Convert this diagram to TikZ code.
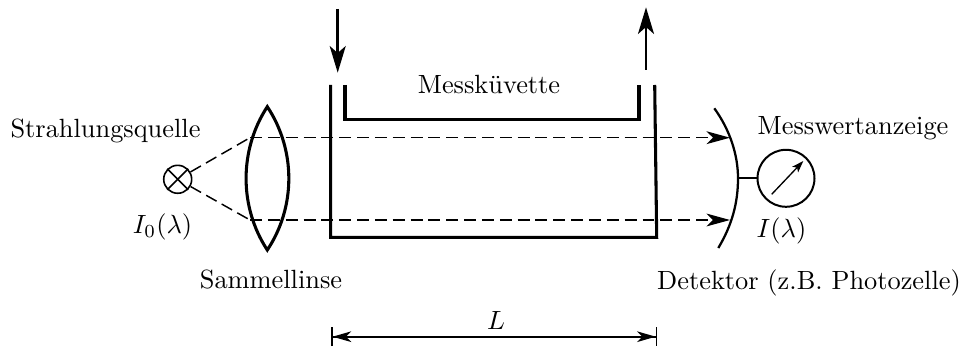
\documentclass[tikz,border=0pt]{standalone}
\usetikzlibrary{arrows.meta}
\begin{document}
\begin{tikzpicture}[x=0.0132cm,y=-0.0132cm]
	\tikzstyle{wall}=[line width=1.15pt]
	\tikzstyle{beam}=[line width=0.55pt,dash pattern=on 4.5pt off 2.2pt]
	\tikzstyle{beamtip}=[-{Stealth[length=8.8pt,width=4.8pt,inset=2.4pt]}]
	\tikzstyle{thinline}=[line width=0.6pt]
	\tikzstyle{flow}=[line width=1pt,-{Stealth[length=10pt,width=6pt,inset=2.6pt]}]
	\tikzstyle{txt}=[inner sep=0pt,anchor=center,scale=0.99]
	\useasboundingbox (0,0) rectangle (961,349);
	\node [draw,circle,thinline,minimum size=10.5pt,inner sep=0pt] (lamp) at (177.7,179.3) {};
	\draw [thinline] (lamp.45) -- (lamp.225);
	\draw [thinline] (lamp.135) -- (lamp.315);
	\node [draw,circle,line width=0.75pt,minimum size=21.4pt,inner sep=0pt] (meter) at (786,178.3) {};
	\coordinate (needlea) at (771.7,194.3);
	\coordinate (needleb) at (803.3,161);
	\draw [line width=0.5pt,-{Stealth[length=4.4pt,width=3pt,inset=1pt]}] (needlea) -- (needleb);
	\coordinate (lenstop) at (267.3,106.7);
	\coordinate (lensbot) at (267.3,250);
	\draw [wall,line join=miter] (lenstop) .. controls (239,150) and (239,207) .. (lensbot) .. controls (296,207) and (296,150) .. (lenstop) -- cycle;
	\coordinate (uplens) at (250,137.7);
	\coordinate (lowlens) at (250,220);
	\coordinate (updet) at (730,137.7);
	\coordinate (lowdet) at (730,220);
	\draw [beam] (lamp) -- (uplens);
	\draw [beam] (lamp) -- (lowlens);
	\draw [beam,beamtip] (uplens) -- (updet);
	\draw [beam,beamtip] (lowlens) -- (lowdet);
	\draw [wall] (330.7,85) -- (330.7,237.3) -- (656.7,237.3) -- (654.7,85);
	\draw [wall] (345,85) -- (345,119.3) -- (639,119.3) -- (639,85);
	\draw [flow] (337.7,9) -- (337.7,72.7);
	\draw [flow] (646,70) -- (646,7.3);
	\coordinate (detmid) at (738,178.3);
	\draw [line width=0.85pt] (714.3,108.3) .. controls (730,130) and (738,155) .. (detmid) .. controls (738,203) and (732,225) .. (718.3,248);
	\draw [thinline] (detmid) -- (meter);
	\coordinate (dima) at (331,336.7);
	\coordinate (dimb) at (657.3,336.7);
	\draw [line width=0.75pt,{Bar[width=7pt,line width=0.6pt]Stealth[length=7pt,width=4pt,inset=2pt]}-{Stealth[length=7pt,width=4pt,inset=2pt]Bar[width=7pt,line width=0.6pt]}] (dima) -- (dimb);
	\node [txt] (source) at (105.5,131) {Strahlungsquelle};
	\node [txt] (sourcei) at (162.5,227) {$I_0(\lambda)$};
	\node [txt] (lens) at (271,279) {Sammellinse};
	\node [txt] (cell) at (489,85) {Messküvette};
	\node [txt] (readout) at (853,128) {Messwertanzeige};
	\node [txt] (readi) at (781.5,231) {$I(\lambda)$};
	\node [txt] (detector) at (809,283) {Detektor (z.B. Photozelle)};
	\node [txt] (length) at (496,320.7) {$L$};
\end{tikzpicture}
\end{document}
